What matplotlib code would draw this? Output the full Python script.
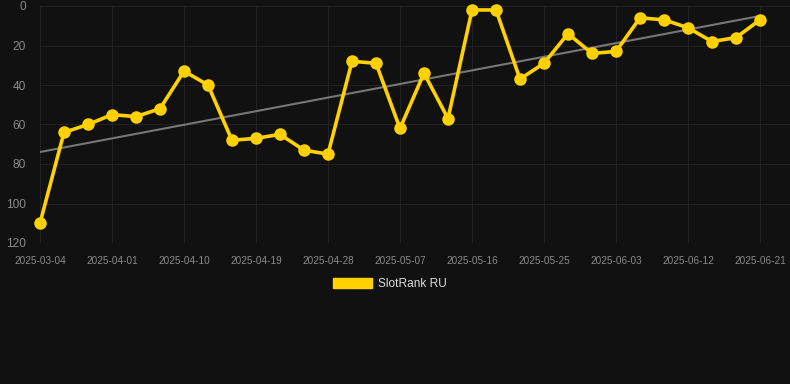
import matplotlib.pyplot as plt
import matplotlib.patches as mpatches
import numpy as np

plt.rcParams['font.family'] = ['Liberation Sans', 'DejaVu Sans']

dates = ["2025-03-04", "2025-03-26", "2025-03-29", "2025-04-01", "2025-04-04",
         "2025-04-07", "2025-04-10", "2025-04-13", "2025-04-16", "2025-04-19",
         "2025-04-22", "2025-04-25", "2025-04-28", "2025-05-01", "2025-05-04",
         "2025-05-07", "2025-05-10", "2025-05-13", "2025-05-16", "2025-05-19",
         "2025-05-22", "2025-05-25", "2025-05-28", "2025-05-31", "2025-06-03",
         "2025-06-06", "2025-06-09", "2025-06-12", "2025-06-15", "2025-06-18",
         "2025-06-21"]
ranks = [110, 64, 60, 55, 56, 52, 33, 40, 68, 67, 65, 73, 75, 28, 29, 62,
         34, 57, 2, 2, 37, 29, 14, 24, 23, 6, 7, 11, 18, 16, 7]
series_name = "SlotRank RU"

bg = "#111111"
gold = "#FFD100"

fig = plt.figure(figsize=(7.9, 3.84), dpi=100, facecolor=bg)
ax = fig.add_axes([40 / 790, (384 - 243) / 384, 1 - 40 / 790, (243 - 6) / 384])
ax.set_facecolor(bg)

x = np.arange(len(ranks))
# trend line
k, b = np.polyfit(x, ranks, 1)
ax.plot(x, k * x + b, color="#777777", lw=1.5, zorder=2)
ax.plot(x, ranks, color=gold, lw=2.6, marker="o", ms=8, zorder=3, clip_on=False)

ax.set_ylim(120, 0)
ax.set_yticks(range(0, 121, 20))
ax.set_xlim(0, 31.25)
ax.set_xticks(x[::3])
ax.set_xticklabels(dates[::3])

ax.grid(True, color="#222222", lw=0.8)
ax.set_axisbelow(True)
for s in ax.spines.values():
    s.set_visible(False)
ax.tick_params(axis="y", length=0, pad=10, labelsize=8.6, labelcolor="#8a8a8a")
ax.tick_params(axis="x", length=0, pad=9, labelsize=7.2, labelcolor="#8a8a8a")
for lbl in ax.get_xticklabels():
    lbl.set_clip_on(False)

handle = mpatches.Patch(color=gold, label=series_name)
leg = fig.legend(handles=[handle], loc="center", bbox_to_anchor=(390 / 790, 1 - 284 / 384),
                 frameon=False, handlelength=3.3, handleheight=0.9, fontsize=8.6,
                 labelcolor="#dddddd", handletextpad=0.5)

fig.savefig("out.png", dpi=100, facecolor=bg)
